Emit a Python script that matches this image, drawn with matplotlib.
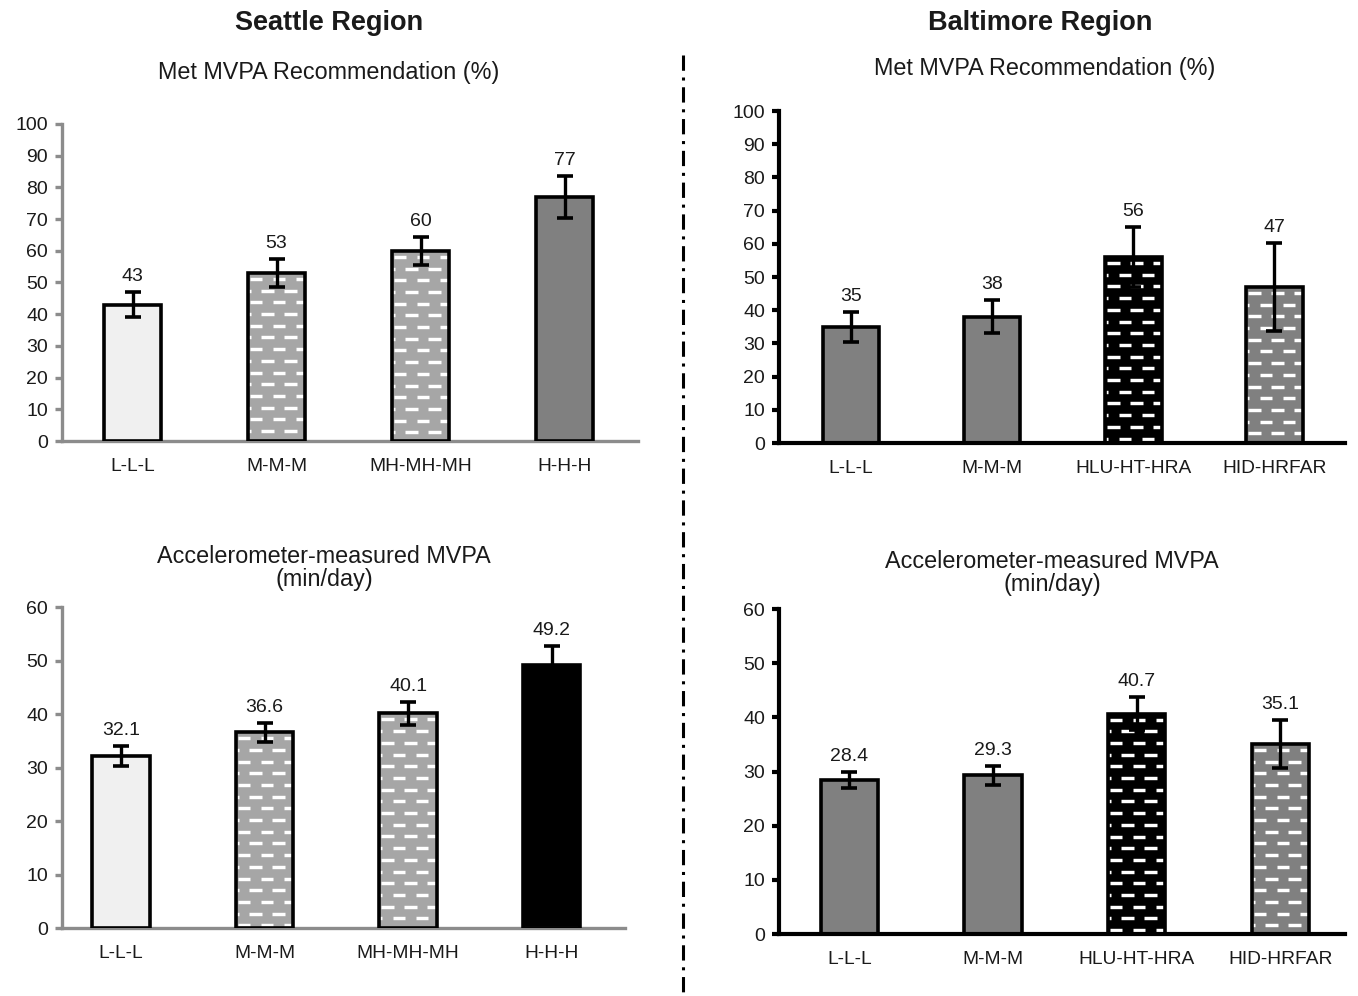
import numpy as np
import matplotlib
matplotlib.use("Agg")
import matplotlib.pyplot as plt
from matplotlib.collections import LineCollection
from matplotlib.lines import Line2D

plt.rcParams["font.family"] = ["Liberation Sans", "DejaVu Sans"]

# ---- data -------------------------------------------------------------
seattle_cats = ["L-L-L", "M-M-M", "MH-MH-MH", "H-H-H"]
baltimore_cats = ["L-L-L", "M-M-M", "HLU-HT-HRA", "HID-HRFAR"]

seattle_met = [43, 53, 60, 77]
seattle_met_err = [4.0, 4.3, 4.5, 6.5]
seattle_mvpa = [32.1, 36.6, 40.1, 49.2]
seattle_mvpa_err = [1.9, 1.8, 2.1, 3.6]

baltimore_met = [35, 38, 56, 47]
baltimore_met_err = [4.5, 5.0, 9.0, 13.3]
baltimore_mvpa = [28.4, 29.3, 40.7, 35.1]
baltimore_mvpa_err = [1.5, 1.7, 3.0, 4.5]

# ---- styles -----------------------------------------------------------
LIGHT = "#f0f0f0"
MID = "#a6a6a6"
DARK = "#808080"
BLACK = "#000000"
TEXT = "#1a1a1a"

seattle_top_fill = [LIGHT, MID, MID, DARK]
seattle_top_dash = [False, True, True, False]
seattle_bot_fill = [LIGHT, MID, MID, BLACK]
seattle_bot_dash = [False, True, True, False]
baltimore_fill = [DARK, DARK, BLACK, DARK]
baltimore_dash = [False, False, True, True]

W, H = 1358, 996
fig = plt.figure(figsize=(W / 100, H / 100), dpi=100)


def px_axes(x0, y0, x1, y1):
    """Axes from pixel box (left, top, right, bottom)."""
    return fig.add_axes([x0 / W, 1 - y1 / H, (x1 - x0) / W, (y1 - y0) / H])


def dash_fill(ax, bar, row_px=11.7, dash_px=12.5, period_px=23.0, lw_px=3.4):
    """Brick-like rows of short white dashes inside a bar."""
    to_disp = ax.transData
    x0, y0 = bar.get_x(), bar.get_y()
    x1, y1 = x0 + bar.get_width(), y0 + bar.get_height()
    (dx0, dy0), (dx1, dy1) = to_disp.transform([(x0, y0), (x1, y1)])
    segs = []
    row = 0
    y = dy1 - 6.0
    while y > dy0 + 2:
        off = (period_px / 2) * (row % 2)
        x = dx0 - period_px + off + 2
        while x < dx1:
            segs.append([(x, y), (x + dash_px, y)])
            x += period_px
        y -= row_px
        row += 1
    inv = ax.transData.inverted()
    segs = [inv.transform(s) for s in segs]
    lc = LineCollection(segs, colors="white", linewidths=lw_px * 0.72,
                        capstyle="butt", zorder=2.5)
    ax.add_collection(lc)
    lc.set_clip_path(bar)


def panel(ax, cats, vals, errs, fills, dashed, ymax, ystep, xlim, spine_col,
          spine_w, fmt):
    x = np.arange(len(cats))
    ax.set_xlim(*xlim)
    ax.set_ylim(0, ymax)
    bars = ax.bar(x, vals, width=0.40, color=fills, edgecolor="none", zorder=2)
    for b, d in zip(bars, dashed):
        if d:
            dash_fill(ax, b)
    ax.bar(x, vals, width=0.40, color="none", edgecolor="black",
           linewidth=2.6, zorder=3)
    ax.errorbar(x, vals, yerr=errs, fmt="none", ecolor="black",
                elinewidth=2.4, capsize=5.5, capthick=2.6, zorder=4)
    for xi, v, e in zip(x, vals, errs):
        ax.annotate(fmt.format(v), (xi, v + e), xytext=(0, 5),
                    textcoords="offset points", ha="center", va="bottom",
                    fontsize=14, color=TEXT)
    for s in ("top", "right"):
        ax.spines[s].set_visible(False)
    for s in ("left", "bottom"):
        ax.spines[s].set_color(spine_col)
        ax.spines[s].set_linewidth(spine_w)
    ax.set_yticks(np.arange(0, ymax + 1, ystep))
    ax.tick_params(axis="y", length=5, width=spine_w, color=spine_col,
                   labelsize=14, labelcolor=TEXT, pad=5)
    ax.set_xticks(x)
    ax.set_xticklabels(cats)
    ax.tick_params(axis="x", length=0, labelsize=13.8, labelcolor=TEXT, pad=12)
    ax.set_facecolor("none")


ax_tl = px_axes(62, 124, 638, 441)
panel(ax_tl, seattle_cats, seattle_met, seattle_met_err, seattle_top_fill,
      seattle_top_dash, 100, 10, (-0.49, 3.51), "#8c8c8c", 2.4, "{:g}")

ax_tr = px_axes(779, 111, 1345, 443)
panel(ax_tr, baltimore_cats, baltimore_met, baltimore_met_err, baltimore_fill,
      baltimore_dash, 100, 10, (-0.51, 3.50), "black", 3.0, "{:g}")

ax_bl = px_axes(62, 607, 625, 928)
panel(ax_bl, seattle_cats, seattle_mvpa, seattle_mvpa_err, seattle_bot_fill,
      seattle_bot_dash, 60, 10, (-0.41, 3.51), "#8c8c8c", 2.4, "{:.1f}")

ax_br = px_axes(779, 609, 1345, 934)
panel(ax_br, baltimore_cats, baltimore_mvpa, baltimore_mvpa_err,
      baltimore_fill, baltimore_dash, 60, 10, (-0.49, 3.45), "black", 3.0,
      "{:.1f}")

# ---- titles -----------------------------------------------------------
def ftext(xp, yp, s, **kw):
    fig.text(xp / W, 1 - yp / H, s, ha="center", va="center", color=TEXT, **kw)


ftext(329, 23, "Seattle Region", fontsize=19.5, fontweight="bold")
ftext(1040, 23, "Baltimore Region", fontsize=19.5, fontweight="bold")
ftext(329, 73, "Met MVPA Recommendation (%)", fontsize=16.8)
ftext(1045, 69, "Met MVPA Recommendation (%)", fontsize=16.8)
ftext(324, 568, "Accelerometer-measured MVPA\n(min/day)", fontsize=16.8,
      linespacing=1.05)
ftext(1052, 573, "Accelerometer-measured MVPA\n(min/day)", fontsize=16.8,
      linespacing=1.05)

# ---- divider between regions -----------------------------------------
fig.add_artist(Line2D([683 / W, 683 / W], [1 - 55 / H, 0.0],
                      transform=fig.transFigure, color="black", linewidth=2.2,
                      linestyle=(0, (5.0, 2.2, 1.0, 2.2))))

fig.savefig("out.png", dpi=100)
